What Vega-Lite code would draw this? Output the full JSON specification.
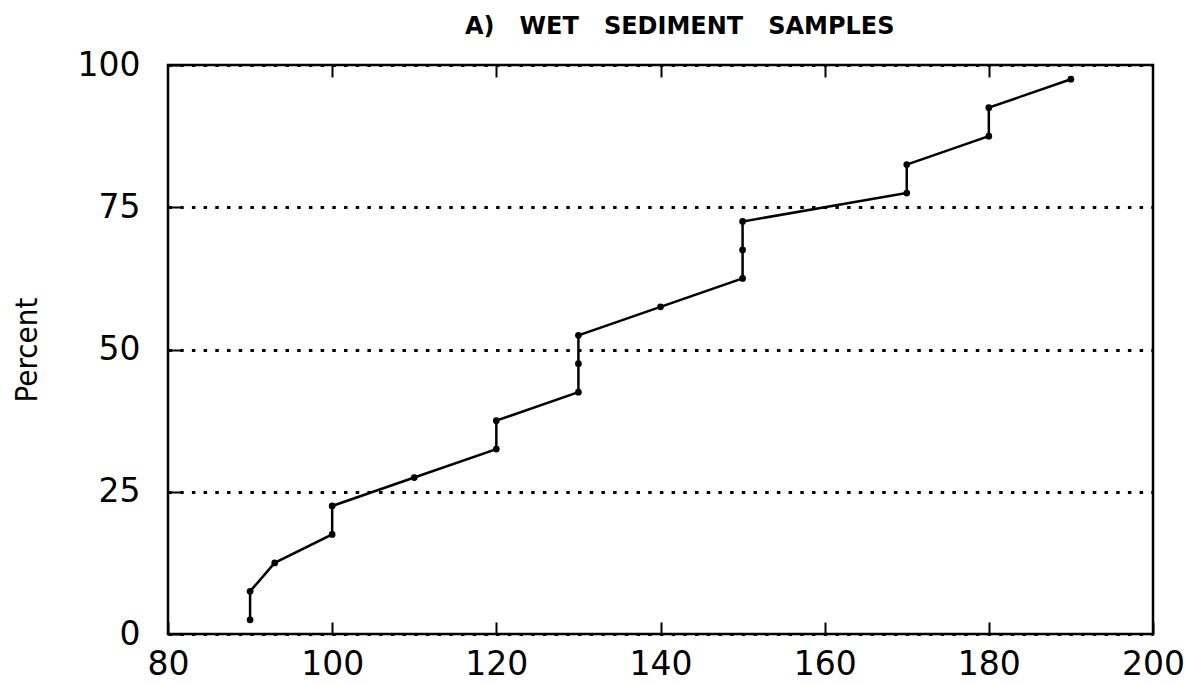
{
  "$schema": "https://vega.github.io/schema/vega-lite/v6.json",
  "autosize": {"type": "none"},
  "width": 985,
  "height": 569,
  "padding": {"left": 168, "top": 65, "right": 33, "bottom": 51},
  "background": "white",
  "config": {
    "view": {"stroke": "black", "strokeWidth": 2.5},
    "axis": {"domain": false, "labelFont": "DejaVu Sans", "labelColor": "black", "tickColor": "black", "titleColor": "black"}
  },
  "title": {
    "text": "A)\u00a0\u00a0\u00a0WET\u00a0\u00a0\u00a0SEDIMENT\u00a0\u00a0\u00a0SAMPLES",
    "font": "DejaVu Sans",
    "fontSize": 24,
    "fontWeight": "bold",
    "anchor": "start",
    "frame": "group",
    "baseline": "alphabetic",
    "dx": 297,
    "dy": 25,
    "offset": 16,
    "color": "black"
  },
  "data": {
    "values": [
      {"i": 1, "value": 90, "percent": 2.5},
      {"i": 2, "value": 90, "percent": 7.5},
      {"i": 3, "value": 93, "percent": 12.5},
      {"i": 4, "value": 100, "percent": 17.5},
      {"i": 5, "value": 100, "percent": 22.5},
      {"i": 6, "value": 110, "percent": 27.5},
      {"i": 7, "value": 120, "percent": 32.5},
      {"i": 8, "value": 120, "percent": 37.5},
      {"i": 9, "value": 130, "percent": 42.5},
      {"i": 10, "value": 130, "percent": 47.5},
      {"i": 11, "value": 130, "percent": 52.5},
      {"i": 12, "value": 140, "percent": 57.5},
      {"i": 13, "value": 150, "percent": 62.5},
      {"i": 14, "value": 150, "percent": 67.5},
      {"i": 15, "value": 150, "percent": 72.5},
      {"i": 16, "value": 170, "percent": 77.5},
      {"i": 17, "value": 170, "percent": 82.5},
      {"i": 18, "value": 180, "percent": 87.5},
      {"i": 19, "value": 180, "percent": 92.5},
      {"i": 20, "value": 190, "percent": 97.5}
    ]
  },
  "resolve": {"axis": {"x": "independent", "y": "independent"}},
  "layer": [
    {
      "mark": {"type": "line", "color": "black", "strokeWidth": 2.5},
      "encoding": {
        "x": {
          "field": "value", "type": "quantitative",
          "scale": {"domain": [80, 200], "nice": false, "zero": false},
          "axis": {"orient": "bottom", "title": null, "values": [80, 100, 120, 140, 160, 180, 200], "offset": -12, "ticks": true, "tickSize": 12, "tickWidth": 2, "labelFontSize": 33, "labelFlush": false, "labelPadding": 14, "grid": false}
        },
        "y": {
          "field": "percent", "type": "quantitative",
          "scale": {"domain": [0, 100], "nice": false},
          "axis": {"orient": "left", "title": "Percent", "titleFont": "'Liberation Sans Narrow', 'DejaVu Sans Condensed', 'Arial Narrow', sans-serif", "titleFontSize": 31, "titleFontWeight": "normal", "titlePadding": 34, "values": [0, 25, 50, 75, 100], "offset": -12, "ticks": true, "tickSize": 12, "tickWidth": 2, "labelFontSize": 33, "labelFlush": false, "labelPadding": 28, "grid": true, "gridColor": "black", "gridDash": [3.5, 8.2], "gridWidth": 3}
        },
        "order": {"field": "i", "type": "quantitative"}
      }
    },
    {
      "mark": {"type": "point", "filled": true, "color": "black", "size": 45, "opacity": 1},
      "encoding": {
        "x": {
          "field": "value", "type": "quantitative",
          "axis": {"orient": "top", "title": null, "labels": false, "values": [100, 120, 140, 160, 180], "offset": -12, "ticks": true, "tickSize": 12, "tickWidth": 2, "grid": false}
        },
        "y": {
          "field": "percent", "type": "quantitative",
          "axis": {"orient": "right", "title": null, "labels": false, "ticks": false, "grid": false}
        }
      }
    }
  ]
}
